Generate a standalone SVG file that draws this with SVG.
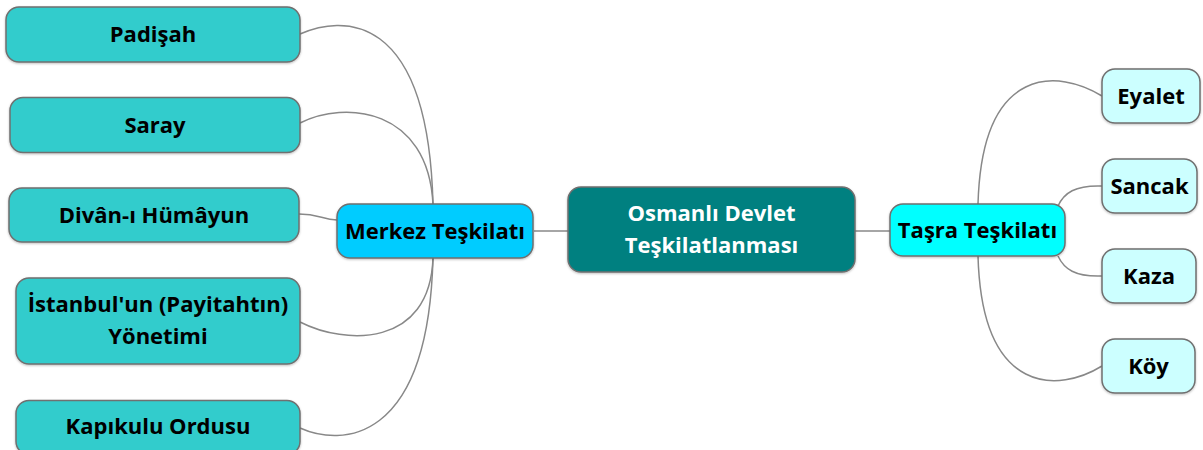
<svg xmlns="http://www.w3.org/2000/svg" width="1203" height="450" viewBox="0 0 1203 450">
<defs>
<filter id="sh" x="-10%" y="-10%" width="120%" height="130%">
<feDropShadow dx="0" dy="1" stdDeviation="1.2" flood-color="#000" flood-opacity="0.25"/>
</filter>
</defs>
<style>
.box{stroke:#6f6f6f;stroke-width:1.5;filter:url(#sh)}
.leafL{fill:#33CCCC}
.leafR{fill:#CCFFFF}
.merkez{fill:#00CCFF}
.tasra{fill:#00FFFF}
.root{fill:#008080}
text{font-family:"Open Sans","Noto Sans","DejaVu Sans",sans-serif;font-weight:bold;font-size:22px;text-anchor:middle;fill:#000}
.w{fill:#ffffff}
.edge{fill:none;stroke:#888888;stroke-width:1.5}
</style>
<rect width="1203" height="450" fill="#ffffff"/>
<g id="connectors">
<path class="edge" d="M534,231 L568,231"/>
<path class="edge" d="M855,231 L890,231"/>
<path class="edge" d="M300,34 C340,16 428,8 433,204"/>
<path class="edge" d="M300,123 C345,100 428,108 433,204"/>
<path class="edge" d="M299,214 C318,214 322,219 337,220"/>
<path class="edge" d="M300,322 C345,345 430,348 433,258"/>
<path class="edge" d="M300,428 C340,446 428,446 433,258"/>
<path class="edge" d="M1102,96 C1060,70 982,62 978,204"/>
<path class="edge" d="M1102,186 C1075,185 1064,193 1058,206"/>
<path class="edge" d="M1102,276 C1075,277 1064,269 1058,256"/>
<path class="edge" d="M1102,366 C1060,392 982,398 978,256"/>
</g>
<g id="root">
<rect class="box root" x="568" y="187" width="287" height="85" rx="13"/>
<text class="w" x="711.5" y="221">Osmanlı Devlet</text>
<text class="w" x="711.5" y="253">Teşkilatlanması</text>
</g>
<g id="merkez">
<rect class="box merkez" x="337" y="204" width="196" height="54" rx="13"/>
<text x="435" y="238.5">Merkez Teşkilatı</text>
</g>
<g id="tasra">
<rect class="box tasra" x="890" y="204" width="175" height="52" rx="13"/>
<text x="977.5" y="237.5">Taşra Teşkilatı</text>
</g>
<g id="padisah">
<rect class="box leafL" x="6" y="7" width="294" height="55" rx="13"/>
<text x="153" y="42">Padişah</text>
</g>
<g id="saray">
<rect class="box leafL" x="10" y="97.5" width="290" height="55" rx="13"/>
<text x="155" y="132.5">Saray</text>
</g>
<g id="divan">
<rect class="box leafL" x="9" y="188" width="290" height="54" rx="13"/>
<text x="154" y="222.5">Divân-ı Hümâyun</text>
</g>
<g id="istanbul">
<rect class="box leafL" x="16" y="278" width="284" height="86" rx="13"/>
<text x="158" y="312">İstanbul'un (Payitahtın)</text>
<text x="158" y="343.5">Yönetimi</text>
</g>
<g id="kapikulu">
<rect class="box leafL" x="16" y="400.5" width="284" height="54" rx="13"/>
<text x="158" y="433.5">Kapıkulu Ordusu</text>
</g>
<g id="eyalet">
<rect class="box leafR" x="1102" y="69" width="98" height="54" rx="13"/>
<text x="1151" y="103.5">Eyalet</text>
</g>
<g id="sancak">
<rect class="box leafR" x="1102" y="159" width="95" height="54" rx="13"/>
<text x="1149.5" y="193.5">Sancak</text>
</g>
<g id="kaza">
<rect class="box leafR" x="1102" y="249" width="94" height="54" rx="13"/>
<text x="1149" y="283.5">Kaza</text>
</g>
<g id="koy">
<rect class="box leafR" x="1102" y="339" width="93" height="54" rx="13"/>
<text x="1148.5" y="373.5">Köy</text>
</g>
</svg>
